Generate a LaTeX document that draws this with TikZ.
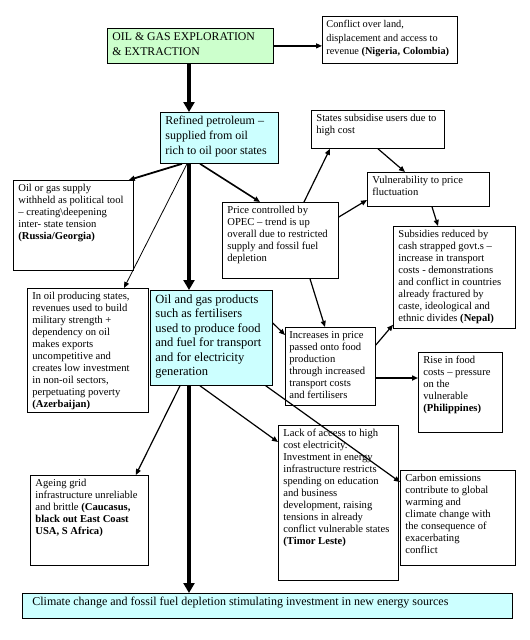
\documentclass[tikz,border=0pt]{standalone}
\usepackage{fontspec}
\setmainfont{Liberation Serif}
\usepackage{xcolor}
\usetikzlibrary{arrows.meta}
\definecolor{boxgreen}{RGB}{204, 255, 204}
\definecolor{boxcyan}{RGB}{204, 255, 255}
% top-aligned text of fixed size inside a box
\newcommand{\boxtext}[3]{\parbox[t][#2][t]{#1}{\raggedright #3}}

\begin{document}
\begin{tikzpicture}[x=1pt, y=-1pt,
    box/.style={draw, anchor=north west, inner xsep=5pt, inner ysep=4pt,
                line width=0.8pt, font=\fontsize{10.6}{12}\selectfont},
    bigbox/.style={box, font=\fontsize{12.5}{14.5}\selectfont},
    link/.style={-{Triangle[length=6pt, width=5pt]}, line width=1.2pt},
    flow/.style={-{Triangle[length=10pt, width=11pt]}, line width=4pt}]
  \fill[white] (0,0) rectangle (530,640);
  \useasboundingbox (0,0) rectangle (530,640);

  \node[bigbox, fill=boxgreen, font=\fontsize{11.8}{15}\selectfont] (explore) at (107,28)
    {\boxtext{156pt}{27pt}{OIL \& GAS EXPLORATION\\ \& EXTRACTION}};
  \node[box, inner xsep=4pt, font=\fontsize{10.3}{13.5}\selectfont] (conflict) at (322,16)
    {\boxtext{127pt}{39pt}{Conflict over land,\\ displacement and access to\\ revenue \textbf{(Nigeria, Colombia)}}};
  \node[bigbox, fill=boxcyan, font=\fontsize{12}{15}\selectfont] (refined) at (160,112)
    {\boxtext{108pt}{43pt}{Refined petroleum --\\ supplied from oil\\ rich to oil poor states}};
  \node[box] (subsidise) at (311,110)
    {\boxtext{123pt}{30pt}{States subsidise users due to\\ high cost}};
  \node[box] (vulner) at (367,172)
    {\boxtext{112pt}{26pt}{Vulnerability to price\\ fluctuation}};
  \node[box] (supply) at (13,180)
    {\boxtext{110pt}{82pt}{Oil or gas supply\\ withheld as political tool\\ -- creating\textbackslash deepening\\ inter- state tension\\ \textbf{(Russia/Georgia)}}};
  \node[box] (opec) at (222,202)
    {\boxtext{106pt}{68pt}{Price controlled by\\ OPEC -- trend is up\\ overall due to restricted\\ supply and fossil fuel\\ depletion}};
  \node[box] (cuts) at (393,226)
    {\boxtext{112pt}{94pt}{Subsidies reduced by\\ cash strapped govt.s --\\ increase in transport\\ costs - demonstrations\\ and conflict in countries\\ already fractured by\\ caste, ideological and\\ ethnic divides \textbf{(Nepal)}}};
  \node[box] (producers) at (27,288)
    {\boxtext{111pt}{116pt}{In oil producing states,\\ revenues used to build\\ military strength +\\ dependency on oil\\ makes exports\\ uncompetitive and\\ creates low investment\\ in non-oil sectors,\\ perpetuating poverty\\ \textbf{(Azerbaijan)}}};
  \node[bigbox, fill=boxcyan] (products) at (150,290)
    {\boxtext{112pt}{87pt}{Oil and gas products\\ such as fertilisers\\ used to produce food\\ and fuel for transport\\ and for electricity\\ generation}};
  \node[box, inner xsep=4pt] (foodprice) at (285,327)
    {\boxtext{82pt}{70pt}{Increases in price\\ passed onto food\\ production\\ through increased\\ transport costs\\ and fertilisers}};
  \node[box] (foodcost) at (418,352)
    {\boxtext{74pt}{72pt}{Rise in food\\ costs -- pressure\\ on the\\ vulnerable\\ \textbf{(Philippines)}}};
  \node[box] (access) at (278,425)
    {\boxtext{110pt}{147pt}{Lack of access to high\\ cost electricity.\\ Investment in energy\\ infrastructure restricts\\ spending on education\\ and business\\ development, raising\\ tensions in already\\ conflict vulnerable states\\ \textbf{(Timor Leste)}}};
  \node[box] (carbon) at (400,470)
    {\boxtext{105pt}{87pt}{Carbon emissions\\ contribute to global\\ warming and\\ climate change with\\ the consequence of\\ exacerbating\\ conflict}};
  \node[box] (grid) at (30,475)
    {\boxtext{108pt}{82pt}{Ageing grid\\ infrastructure unreliable\\ and brittle \textbf{(Caucasus,}\\ \textbf{black out East Coast}\\ \textbf{USA, S Africa)}}};
  \node[box, fill=boxcyan, inner xsep=10pt, font=\fontsize{12}{14}\selectfont] (climate) at (22,593)
    {\boxtext{470pt}{17pt}{Climate change and fossil fuel depletion stimulating investment in new energy sources}};

  % main chain
  \draw[flow] ([xshift=82pt]explore.south west) -- ([xshift=29pt]refined.north west);
  \draw[flow] ([xshift=29pt]refined.south west) -- ([xshift=39pt]products.north west);
  \draw[flow] ([xshift=39pt]products.south west) -- ([xshift=167pt]climate.north west);

  \draw[link] (explore.east) -- (explore.east -| conflict.west);
  \draw[link, line width=1.8pt] ([xshift=22pt]refined.south west) -- ([xshift=-5pt]supply.north east);
  \draw[link, line width=0.8pt] ([xshift=27pt]refined.south west) -- ([xshift=97pt]producers.north west);
  \draw[link, line width=1.6pt] ([xshift=40pt]refined.south west) -- ([xshift=38pt]opec.north west);
  \draw[link] ([xshift=82pt]opec.north west) -- ([xshift=19pt]subsidise.south west);
  \draw[link] ([xshift=67pt]subsidise.south west) -- ([xshift=38pt]vulner.north west);
  \draw[link] ([yshift=-15pt]opec.north east) -- ([yshift=-28pt]vulner.north west);
  \draw[link] ([xshift=65pt]vulner.south west) -- ([xshift=45pt]cuts.north west);
  \draw[link] ([xshift=88pt]opec.south west) -- ([xshift=40pt]foodprice.north west);
  \draw[link] ([yshift=-33pt]products.north east) -- ([yshift=-8pt]foodprice.north west);
  \draw[link] ([yshift=-18pt]foodprice.north east) -- ([yshift=4pt]cuts.south west);
  \draw[link, line width=1.8pt] ([yshift=-51pt]foodprice.north east) -- ([yshift=-26pt]foodcost.north west);
  \draw[link] ([xshift=-7pt]products.south east) -- ([yshift=-12pt]carbon.north west);
  \draw[link] ([xshift=50pt]products.south west) -- ([yshift=-17pt]access.north west);
  \draw[link] ([xshift=30pt]products.south west) -- ([xshift=-13pt]grid.north east);
\end{tikzpicture}
\end{document}
